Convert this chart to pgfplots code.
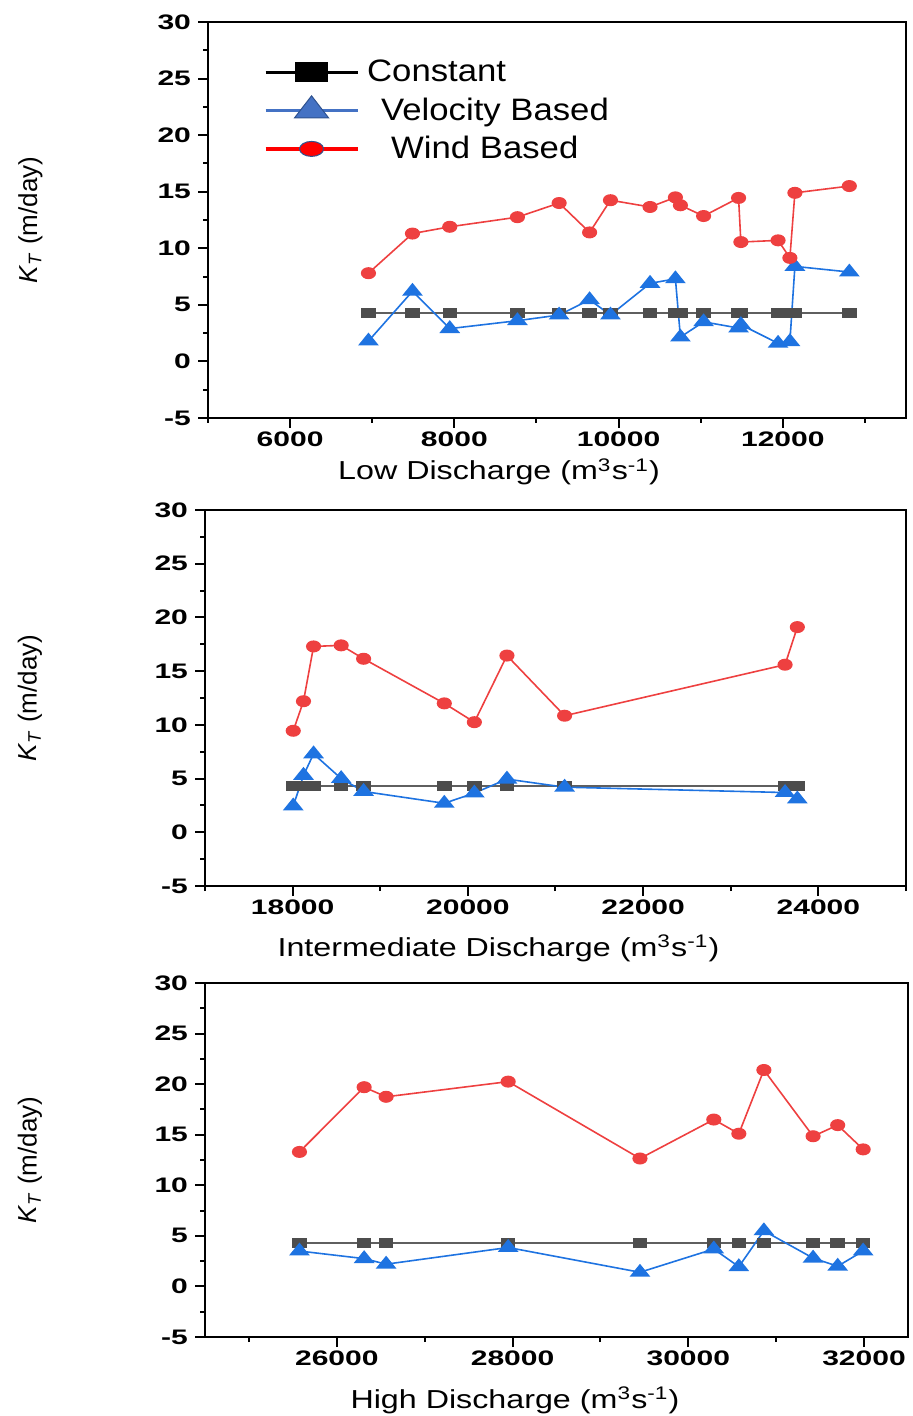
\documentclass[border=0pt]{standalone}
\usepackage{fontspec}
\setmainfont{Liberation Sans}
\usepackage{graphicx}
\usepackage{pgfplots}
\usepackage{pgfplotstable}
\pgfplotsset{compat=1.18}

\definecolor{wred}{RGB}{238,64,64}
\definecolor{vblue}{RGB}{30,115,225}
\definecolor{cgray}{RGB}{77,77,77}
\definecolor{cline}{RGB}{95,95,95}
\definecolor{lgblue}{RGB}{68,114,196}
\definecolor{lgedge}{RGB}{47,82,143}

\newcommand{\hs}[2]{\scalebox{#1}[1]{#2}}

\pgfkeys{/pgf/number format/.cd, assume math mode=true, fixed, precision=0, 1000 sep={}}

\pgfplotstableread{
x c v w
6954 4.3 1.8 7.8
7490 4.3 6.2 11.3
7944 4.3 2.9 11.9
8768 4.3 3.6 12.75
9276 4.3 4.1 14.0
9647 4.3 5.45 11.4
9901 4.3 4.1 14.25
10383 4.3 6.9 13.65
10692 4.3 7.3 14.5
10753 4.3 2.15 13.8
11035 4.3 3.5 12.85
11461 4.3 2.95 14.45
11489 4.3 3.25 10.55
11942 4.3 1.6 10.7
12086 4.3 1.75 9.15
12147 4.3 8.4 14.9
12810 4.3 7.9 15.5
}\lowtab

\pgfplotstableread{
x c v w
18007 4.3 2.45 9.45
18124 4.3 5.3 12.2
18239 4.3 7.3 17.3
18554 4.3 5.0 17.4
18810 4.3 3.8 16.15
19731 4.3 2.7 12.0
20074 4.3 3.65 10.25
20446 4.3 4.95 16.45
21104 4.3 4.2 10.85
23620 4.3 3.7 15.6
23760 4.3 3.1 19.1
}\midtab

\pgfplotstableread{
x c v w
25575 4.3 3.5 13.3
26311 4.3 2.75 19.7
26561 4.3 2.2 18.75
27950 4.3 3.85 20.25
29450 4.3 1.4 12.65
30290 4.3 3.7 16.5
30575 4.3 1.95 15.1
30860 4.3 5.5 21.4
31420 4.3 2.8 14.85
31700 4.3 2.0 15.95
31990 4.3 3.5 13.55
}\hightab

\pgfplotsset{
  panel/.style={
    scale only axis,
    anchor=north west,
    ymin=-5, ymax=30,
    ytick={-5,0,5,10,15,20,25,30},
    minor ytick={-2.5,2.5,7.5,12.5,17.5,22.5,27.5},
    xtick pos=left, ytick pos=left,
    tick align=outside,
    major tick length=5pt, minor tick length=2.5pt,
    axis line style={line width=1pt, black},
    tick style={black, line width=1pt},
    scaled x ticks=false, scaled y ticks=false,
    xticklabel={\hs{1.43}{\pgfmathprintnumber{\tick}}},
    yticklabel={\hs{1.43}{\pgfmathprintnumber{\tick}}},
    tick label style={font=\fontsize{10.5}{12}\selectfont\bfseries},
    xticklabel style={inner sep=1.5pt},
    label style={font=\fontsize{13}{15}\selectfont},
    ylabel={\textit{K}\textsubscript{\textit{T}} (m/day)},
  },
  cst/.style={cline, line width=1pt, mark=square*, mark size=2pt,
    mark options={fill=cgray, draw=cgray, xscale=1.55}, forget plot},
  vel/.style={vblue, line width=0.8pt, mark=triangle*, mark size=3.6pt,
    mark options={fill=vblue, draw=vblue, xscale=1.4}, forget plot},
  wnd/.style={wred, line width=0.8pt, mark=*, mark size=2.6pt,
    mark options={fill=wred, draw=wred, xscale=1.3}, forget plot},
}

\begin{document}
\begin{tikzpicture}
\path[use as bounding box] (0,0) rectangle (456.5pt,-708pt);

\begin{axis}[panel, at={(104pt,-11pt)}, width=349pt, height=198pt,
  xmin=5000, xmax=13500,
  xtick={6000,8000,10000,12000},
  minor xtick={5000,7000,9000,11000,13000},
  xlabel={\hs{1.24}{Low Discharge (m\textsuperscript{3}s\textsuperscript{-1})}},
  xlabel style={at={(axis description cs:0.417,-0.136)}, anchor=center},
  ylabel style={at={(axis description cs:-0.2546,0.5)}, anchor=center},
  legend cell align=left,
  legend image code/.code={\draw[mark repeat=2,mark phase=2,#1] plot coordinates {(0pt,0pt) (23pt,0pt) (46pt,0pt)};},
  legend style={at={(axis description cs:0.071,0.92)}, anchor=north west,
    draw=none, fill=none, font=\fontsize{15.5}{18}\selectfont, row sep=4.5pt,
    nodes={inner sep=1pt}},
]
\addplot[cst] table[x=x,y=c] {\lowtab};
\addplot[vel] table[x=x,y=v] {\lowtab};
\addplot[wnd] table[x=x,y=w] {\lowtab};
\addlegendimage{black, line width=1.6pt, mark=square*, mark size=4.25pt, mark options={xscale=1.76, fill=black, draw=black}}
\addlegendentry{\hspace{3pt}\hs{1.12}{Constant}}
\addlegendimage{lgblue, line width=1.6pt, mark=triangle*, mark size=7.3pt, mark options={xscale=1.34, fill=lgblue, draw=lgedge, line width=0.5pt}}
\addlegendentry{\hspace{10pt}\hs{1.12}{Velocity Based}}
\addlegendimage{red, line width=1.6pt, mark=*, mark size=3.75pt, mark options={xscale=1.6, fill=red, draw=lgedge, line width=0.5pt}}
\addlegendentry{\hspace{15pt}\hs{1.12}{Wind Based}}
\end{axis}

\begin{axis}[panel, at={(102.5pt,-255pt)}, width=350.5pt, height=188pt,
  xmin=17000, xmax=25000,
  xtick={18000,20000,22000,24000},
  minor xtick={17000,19000,21000,23000,25000},
  xlabel={\hs{1.24}{Intermediate Discharge (m\textsuperscript{3}s\textsuperscript{-1})}},
  xlabel style={at={(axis description cs:0.4187,-0.165)}, anchor=center},
  ylabel style={at={(axis description cs:-0.2497,0.5)}, anchor=center},
]
\addplot[cst] table[x=x,y=c] {\midtab};
\addplot[vel] table[x=x,y=v] {\midtab};
\addplot[wnd] table[x=x,y=w] {\midtab};
\end{axis}

\begin{axis}[panel, at={(102.5pt,-491.5pt)}, width=351.5pt, height=177pt,
  xmin=24500, xmax=32500,
  xtick={26000,28000,30000,32000},
  minor xtick={25000,27000,29000,31000},
  xlabel={\hs{1.24}{High Discharge (m\textsuperscript{3}s\textsuperscript{-1})}},
  xlabel style={at={(axis description cs:0.441,-0.178)}, anchor=center},
  ylabel style={at={(axis description cs:-0.249,0.5)}, anchor=center},
]
\addplot[cst] table[x=x,y=c] {\hightab};
\addplot[vel] table[x=x,y=v] {\hightab};
\addplot[wnd] table[x=x,y=w] {\hightab};
\end{axis}
\end{tikzpicture}
\end{document}
